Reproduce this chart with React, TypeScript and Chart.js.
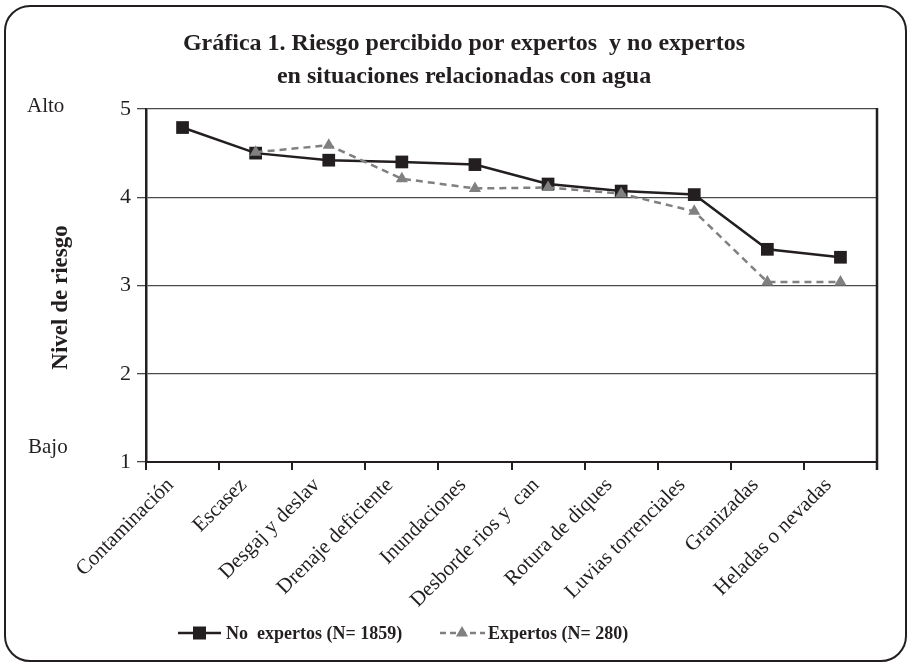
import { useEffect, useRef } from 'react';
import { Chart, registerables } from 'chart.js';

Chart.register(...registerables);

const CATEGORIES = [
  'Contaminación',
  'Escasez',
  'Desgaj y deslav',
  'Drenaje deficiente',
  'Inundaciones',
  'Desborde rios y  can',
  'Rotura de diques',
  'Luvias torrenciales',
  'Granizadas',
  'Heladas o nevadas',
];
const NO_EXPERTOS = [4.79, 4.5, 4.42, 4.4, 4.37, 4.15, 4.07, 4.03, 3.41, 3.32];
const EXPERTOS = [null, 4.51, 4.59, 4.21, 4.1, 4.11, 4.04, 3.84, 3.04, 3.04];
const Y_MIN = 1;
const Y_MAX = 5;
const TITLE_LINE_1_BOLD = 'Gráfica 1.';
const TITLE_LINE_1_REST = ' Riesgo percibido por expertos  y no expertos';
const TITLE_LINE_2 = 'en situaciones relacionadas con agua';
const Y_TITLE = 'Nivel de riesgo';
const LEVEL_HIGH = 'Alto';
const LEVEL_LOW = 'Bajo';
const LEGEND_LABELS = ['No  expertos (N= 1859)', 'Expertos (N= 280)'];

const DARK = '#231f20';
const GREY = '#808080';
const FONT = '"Liberation Serif", "Times New Roman", serif';

const decorPlugin = {
  id: 'decor',
  afterDraw(chart: any) {
    const { ctx, chartArea, scales } = chart;
    const y = scales.y;
    ctx.save();
    // right border of plot
    ctx.strokeStyle = DARK;
    ctx.lineWidth = 2.5;
    ctx.beginPath();
    ctx.moveTo(chartArea.right, chartArea.top - 1);
    ctx.lineTo(chartArea.right, chartArea.bottom + 8);
    ctx.stroke();

    ctx.fillStyle = DARK;
    // title
    ctx.textBaseline = 'alphabetic';
    ctx.font = `bold 24px ${FONT}`;
    const w1 = ctx.measureText(TITLE_LINE_1_BOLD).width;
    const w2 = ctx.measureText(TITLE_LINE_1_REST).width;
    const cx = 464;
    const x0 = cx - (w1 + w2) / 2;
    ctx.textAlign = 'left';
    ctx.fillText(TITLE_LINE_1_BOLD, x0, 50);
    ctx.fillText(TITLE_LINE_1_REST, x0 + w1, 50);
    ctx.textAlign = 'center';
    ctx.fillText(TITLE_LINE_2, cx, 83);

    // Alto / Bajo
    ctx.font = `21px ${FONT}`;
    ctx.textAlign = 'left';
    ctx.fillText(LEVEL_HIGH, 27, y.getPixelForValue(Y_MAX) + 3);
    ctx.fillText(LEVEL_LOW, 28, y.getPixelForValue(Y_MIN) - 9);

    // y title
    ctx.save();
    ctx.translate(61, (y.getPixelForValue(Y_MAX) + y.getPixelForValue(Y_MIN)) / 2 + 12);
    ctx.rotate(-Math.PI / 2);
    ctx.font = `bold 23px ${FONT}`;
    ctx.textAlign = 'center';
    ctx.textBaseline = 'middle';
    ctx.fillText(Y_TITLE, 0, 0);
    ctx.restore();

    // legend
    const ly = 633;
    ctx.textBaseline = 'middle';
    ctx.textAlign = 'left';
    ctx.font = `bold 18px ${FONT}`;
    ctx.strokeStyle = DARK;
    ctx.lineWidth = 2.5;
    ctx.setLineDash([]);
    ctx.beginPath();
    ctx.moveTo(178, ly);
    ctx.lineTo(221, ly);
    ctx.stroke();
    ctx.fillRect(193, ly - 6.5, 13, 13);
    ctx.fillStyle = DARK;
    ctx.fillText(LEGEND_LABELS[0], 226, ly + 1);

    ctx.strokeStyle = GREY;
    ctx.setLineDash([6, 4]);
    ctx.beginPath();
    ctx.moveTo(440, ly);
    ctx.lineTo(485, ly);
    ctx.stroke();
    ctx.setLineDash([]);
    ctx.fillStyle = GREY;
    ctx.beginPath();
    const tx = 462;
    const r = 7;
    ctx.moveTo(tx, ly - r);
    ctx.lineTo(tx + r * 0.866, ly + r / 2);
    ctx.lineTo(tx - r * 0.866, ly + r / 2);
    ctx.closePath();
    ctx.fill();
    ctx.fillStyle = DARK;
    ctx.fillText(LEGEND_LABELS[1], 488, ly + 1);
    ctx.restore();
  },
};

export default function App() {
  const canvasRef = useRef<HTMLCanvasElement>(null);

  useEffect(() => {
    if (!canvasRef.current) return;
    const chart = new Chart(canvasRef.current, {
      type: 'line',
      data: {
        labels: CATEGORIES,
        datasets: [
          {
            label: LEGEND_LABELS[0],
            data: NO_EXPERTOS,
            borderColor: DARK,
            backgroundColor: DARK,
            borderWidth: 2.5,
            pointStyle: 'rect',
            pointRadius: 9,
            pointBorderWidth: 0,
            pointBackgroundColor: DARK,
            tension: 0,
            order: 2,
          },
          {
            label: LEGEND_LABELS[1],
            data: EXPERTOS,
            borderColor: GREY,
            backgroundColor: GREY,
            borderWidth: 2.5,
            borderDash: [7, 5],
            pointStyle: 'triangle',
            pointRadius: 7,
            pointBorderWidth: 0,
            pointBackgroundColor: GREY,
            tension: 0,
            order: 1,
          },
        ],
      },
      options: {
        responsive: false,
        animation: false,
        layout: { padding: { top: 109, right: 34, left: 0, bottom: 0 } },
        plugins: {
          legend: { display: false },
          title: { display: false },
          tooltip: { enabled: false },
        },
        scales: {
          x: {
            type: 'category',
            offset: true,
            grid: {
              offset: true,
              drawOnChartArea: false,
              drawTicks: true,
              tickLength: 8,
              color: DARK,
              lineWidth: 2,
            },
            border: { display: true, color: DARK, width: 2 },
            ticks: {
              autoSkip: false,
              minRotation: 45,
              maxRotation: 45,
              color: DARK,
              padding: 3,
              labelOffset: -12,
              font: { family: FONT, size: 21 },
            },
            afterFit: (s: any) => {
              s.height = 203;
            },
          },
          y: {
            min: Y_MIN,
            max: Y_MAX,
            ticks: {
              stepSize: 1,
              color: DARK,
              padding: 6,
              font: { family: FONT, size: 22 },
            },
            grid: {
              color: '#4a4a4a',
              lineWidth: 1.3,
              tickLength: 9,
              drawTicks: true,
            },
            border: { color: DARK, width: 2.5 },
            afterFit: (s: any) => {
              s.width = 146;
            },
          },
        },
      },
      plugins: [decorPlugin],
    });
    return () => chart.destroy();
  }, []);

  return (
    <div style={{ position: 'fixed', left: 0, top: 0, width: 911, height: 665, background: '#fff' }}>
      <div
        style={{
          position: 'absolute',
          left: 4,
          top: 5,
          width: 903,
          height: 657,
          boxSizing: 'border-box',
          border: '2px solid #231f20',
          borderRadius: 26,
        }}
      />
      <canvas ref={canvasRef} width={911} height={665} style={{ position: 'absolute', left: 0, top: 0 }} />
    </div>
  );
}
